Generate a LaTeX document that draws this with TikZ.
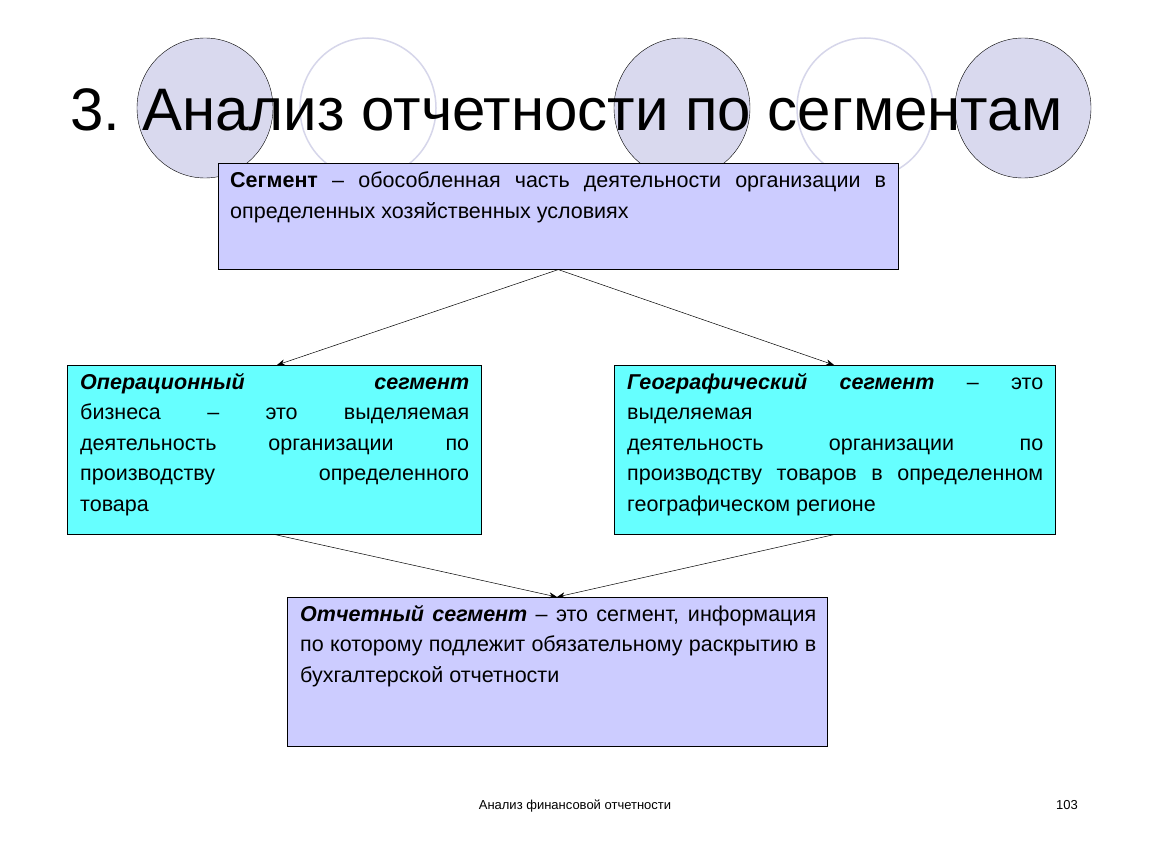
\documentclass[tikz,border=0pt]{standalone}
\usepackage{fontspec}
\setmainfont{Liberation Sans}
\usetikzlibrary{arrows.meta}
\begin{document}
\begin{tikzpicture}[x=1pt,y=-1pt,
  circf/.style={fill=lav},
  circo/.style={draw=lavline,line width=1.5pt,fill=white},
  box/.style={draw=black,line width=0.6pt,anchor=north west,inner sep=0pt},
  txt/.style={anchor=north west,inner sep=0pt,align=justify,font=\fontsize{21.5}{30.5}\selectfont},
  arr/.style={-{Stealth[length=8pt,width=6pt]},line width=0.5pt}]
\definecolor{lav}{HTML}{D9D9EE}
\definecolor{lavline}{HTML}{D6D6EA}
\definecolor{boxlav}{HTML}{CCCCFF}
\definecolor{boxcyan}{HTML}{66FFFF}
\useasboundingbox (0,0) rectangle (1150,864);
\fill[white] (0,0) rectangle (1150,864);
\draw[circf] (205,108) ellipse (68 and 70);
\draw[circo] (368,108) ellipse (68 and 70);
\draw[circf] (682,108) ellipse (68 and 70);
\draw[circo] (865,108) ellipse (68 and 70);
\draw[circf] (1023,108) ellipse (68 and 70);
\node[anchor=base west,inner sep=0pt,font=\fontsize{60}{70}\selectfont] (title) at (70,130) {3. Анализ отчетности по сегментам};
\node[box,fill=boxlav,minimum width=680,minimum height=106] (top) at (218,163) {};
\node[txt,text width=656] (toptxt) at (230,172) {\textbf{Сегмент} – обособленная часть деятельности организации в определенных хозяйственных условиях};
\node[box,fill=boxcyan,minimum width=414,minimum height=169] (left) at (67,365) {};
\node[txt,text width=389] (lefttxt) at (80,373) {\textbf{\textit{Операционный сегмент}}\linebreak бизнеса – это выделяемая деятельность организации по производству определенного\linebreak товара};
\node[box,fill=boxcyan,minimum width=441,minimum height=169] (right) at (614,365) {};
\node[txt,text width=416] (righttxt) at (627,373) {\textbf{\textit{Географический сегмент}} – это выделяемая\linebreak деятельность организации по производству товаров в определенном географическом регионе};
\node[box,fill=boxlav,minimum width=540,minimum height=149] (bot) at (287,597) {};
\node[txt,text width=516] (bottxt) at (300,605) {\textbf{\textit{Отчетный сегмент}} – это сегмент, информация по которому подлежит обязательному раскрытию в бухгалтерской отчетности};
\draw[arr] (top.south) -- ([xshift=210]left.north west);
\draw[arr] (top.south) -- ([xshift=220]right.north west);
\draw[arr] ([xshift=208]left.south west) -- ([xshift=270]bot.north west);
\draw[arr] ([xshift=220]right.south west) -- ([xshift=270]bot.north west);
\node[anchor=base,inner sep=0pt,font=\fontsize{13}{15}\selectfont] (foot) at (575,809) {Анализ финансовой отчетности};
\node[anchor=base,inner sep=0pt,font=\fontsize{13}{15}\selectfont] (num) at (1067,809) {103};
\end{tikzpicture}
\end{document}
